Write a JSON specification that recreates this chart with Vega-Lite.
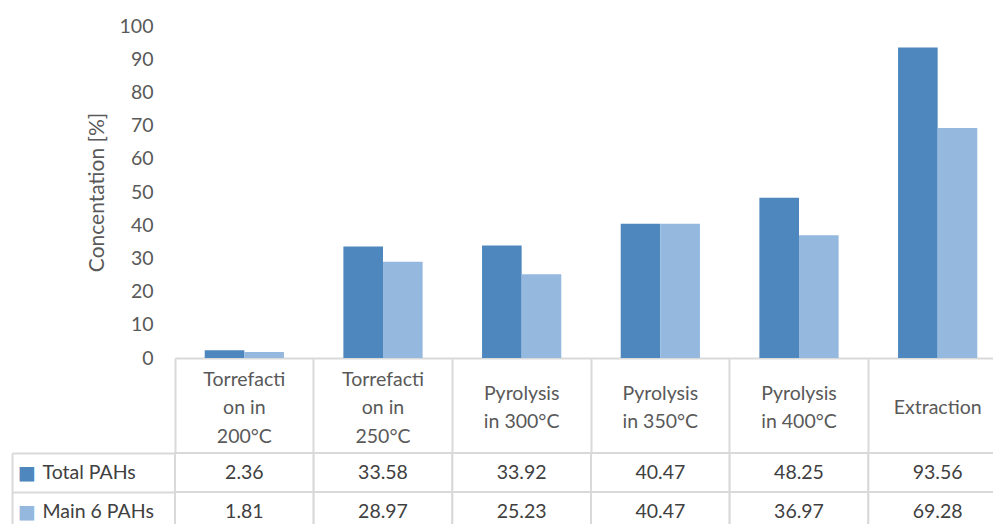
{
  "$schema": "https://vega.github.io/schema/vega-lite/v6.json",
  "padding": {"left": 11, "top": 16, "right": 0, "bottom": 0},
  "background": "white",
  "config": {"view": {"stroke": null}, "font": "Lato", "axis": {"labelFont": "Lato", "titleFont": "Lato"}},
  "datasets": {
    "pahs": [
      {"process": "Torrefaction in 200°C", "series": "Total PAHs", "value": 2.36},
      {"process": "Torrefaction in 200°C", "series": "Main 6 PAHs", "value": 1.81},
      {"process": "Torrefaction in 250°C", "series": "Total PAHs", "value": 33.58},
      {"process": "Torrefaction in 250°C", "series": "Main 6 PAHs", "value": 28.97},
      {"process": "Pyrolysis in 300°C", "series": "Total PAHs", "value": 33.92},
      {"process": "Pyrolysis in 300°C", "series": "Main 6 PAHs", "value": 25.23},
      {"process": "Pyrolysis in 350°C", "series": "Total PAHs", "value": 40.47},
      {"process": "Pyrolysis in 350°C", "series": "Main 6 PAHs", "value": 40.47},
      {"process": "Pyrolysis in 400°C", "series": "Total PAHs", "value": 48.25},
      {"process": "Pyrolysis in 400°C", "series": "Main 6 PAHs", "value": 36.97},
      {"process": "Extraction", "series": "Total PAHs", "value": 93.56},
      {"process": "Extraction", "series": "Main 6 PAHs", "value": 69.28}
    ]
  },
  "bounds": "flush",
  "spacing": 95,
  "resolve": {"scale": {"x": "independent", "y": "independent", "color": "independent"}},
  "vconcat": [
    {
      "width": 832,
      "height": 332,
      "data": {"name": "pahs"},
      "mark": {"type": "bar"},
      "encoding": {
        "x": {
          "field": "process", "type": "nominal", "sort": null,
          "scale": {"paddingInner": 0, "paddingOuter": 0},
          "axis": {
            "title": null, "labelAngle": 0,
            "domainColor": "#d9d9d9", "domainWidth": 2,
            "ticks": true, "bandPosition": 0, "tickSize": 95, "tickColor": "#d9d9d9", "tickWidth": 2,
            "labelExpr": "datum.value === 'Torrefaction in 200°C' ? ['Torrefacti', '\u200b', 'on in', '\u200b', '200°C'] : datum.value === 'Torrefaction in 250°C' ? ['Torrefacti', '\u200b', 'on in', '\u200b', '250°C'] : datum.value === 'Pyrolysis in 300°C' ? ['\u200b', 'Pyrolysis', '\u200b', 'in 300°C'] : datum.value === 'Pyrolysis in 350°C' ? ['\u200b', 'Pyrolysis', '\u200b', 'in 350°C'] : datum.value === 'Pyrolysis in 400°C' ? ['\u200b', 'Pyrolysis', '\u200b', 'in 400°C'] : ['\u200b', '\u200b', 'Extraction']",
            "labelPadding": -83, "labelLineHeight": 14.25,
            "labelFontSize": 19.5, "labelColor": "#595959"
          }
        },
        "xOffset": {
          "field": "series", "type": "nominal", "sort": ["Total PAHs", "Main 6 PAHs"],
          "scale": {"paddingOuter": 0.75}
        },
        "y": {
          "field": "value", "type": "quantitative",
          "scale": {"domain": [0, 100], "nice": false},
          "axis": {
            "values": [0, 10, 20, 30, 40, 50, 60, 70, 80, 90, 100],
            "title": "Concentation [%]", "domain": false, "ticks": false, "grid": false,
            "labelPadding": 22, "labelFontSize": 19.5, "labelColor": "#595959",
            "titleFontSize": 21, "titleFontWeight": "normal", "titleColor": "#595959", "titlePadding": 12
          }
        },
        "color": {
          "field": "series", "type": "nominal", "sort": ["Total PAHs", "Main 6 PAHs"],
          "scale": {"range": ["#4e87bd", "#95b8df"]},
          "legend": null
        }
      }
    },
    {
      "width": 832,
      "height": 78,
      "data": {"name": "pahs"},
      "layer": [
        {
          "mark": {"type": "rect", "fill": "white", "stroke": "#d9d9d9", "strokeWidth": 2},
          "encoding": {
            "x": {
              "field": "process", "type": "nominal", "sort": null,
              "scale": {"paddingInner": 0, "paddingOuter": 0},
              "axis": null
            },
            "y": {
              "field": "series", "type": "nominal",
              "scale": {"domain": ["Total PAHs", "Main 6 PAHs"], "paddingInner": 0, "paddingOuter": 0},
              "axis": null
            }
          }
        },
        {
          "mark": {"type": "text", "fontSize": 19.5, "color": "#404040", "font": "Lato"},
          "encoding": {
            "x": {"field": "process", "type": "nominal", "sort": null, "axis": null},
            "y": {
              "field": "series", "type": "nominal",
              "axis": {
                "orient": "left", "title": null, "domain": false,
                "ticks": true, "bandPosition": 0, "tickSize": 163, "tickColor": "#d9d9d9", "tickWidth": 2,
                "labelAlign": "left", "labelPadding": -30, "labelBaseline": "middle",
                "labelFontSize": 19.5, "labelColor": "#404040"
              }
            },
            "text": {"field": "value", "type": "quantitative", "format": ".2f"}
          }
        },
        {
          "mark": {"type": "rect", "opacity": 0},
          "encoding": {
            "x": {"field": "process", "type": "nominal", "sort": null, "axis": null},
            "y": {
              "field": "series", "type": "nominal",
              "axis": {
                "orient": "left", "title": null, "domain": false, "ticks": false,
                "labelExpr": "'■'", "labelAlign": "center", "labelPadding": 148.5, "labelBaseline": "middle",
                "labelFont": "DejaVu Sans", "labelFontSize": 19,
                "labelColor": {"condition": {"test": "datum.value === 'Total PAHs'", "value": "#4e87bd"}, "value": "#95b8df"}
              }
            }
          }
        },
        {
          "mark": {"type": "rect", "opacity": 0},
          "encoding": {
            "x": {"field": "process", "type": "nominal", "sort": null, "axis": null},
            "y": {
              "field": "series", "type": "nominal",
              "axis": {
                "orient": "left", "offset": 163, "title": null, "labels": false, "ticks": false,
                "domain": true, "domainColor": "#d9d9d9", "domainWidth": 2
              }
            }
          }
        }
      ],
      "resolve": {"axis": {"y": "independent"}}
    }
  ]
}
